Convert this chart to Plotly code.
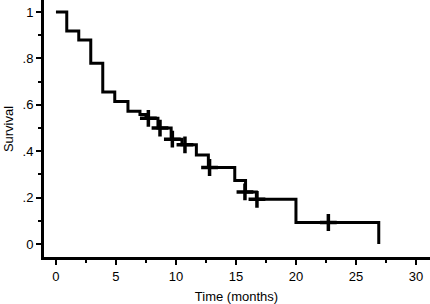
import plotly.graph_objects as go

# Kaplan-Meier step curve (time in months, survival proportion)
step_times = [0, 0.9, 1.9, 2.9, 3.9, 4.9, 6.0, 7.0, 7.5, 8.5, 9.6, 10.5, 11.7, 12.7, 14.9, 15.8, 16.7, 20.0, 26.9]
step_surv = [1.0, 0.918, 0.88, 0.779, 0.655, 0.615, 0.573, 0.558, 0.542, 0.5, 0.452, 0.428, 0.384, 0.33, 0.274, 0.225, 0.193, 0.093, 0.0]

# Censored observations
cens_times = [7.7, 8.67, 9.7, 10.75, 12.8, 15.75, 16.75, 22.7]
cens_surv = [0.542, 0.5, 0.452, 0.428, 0.33, 0.225, 0.193, 0.093]

y_ticks = [0, 0.2, 0.4, 0.6, 0.8, 1.0]
y_labels = ["0", ".2", ".4", ".6", ".8", "1"]
x_ticks = [0, 5, 10, 15, 20, 25, 30]

fig = go.Figure()
fig.add_trace(go.Scatter(x=step_times, y=step_surv, mode="lines",
                         line=dict(shape="hv", color="black", width=3),
                         hoverinfo="skip"))
fig.add_trace(go.Scatter(x=cens_times, y=cens_surv, mode="markers",
                         marker=dict(symbol="cross-thin", size=12, color="black",
                                     line=dict(color="black", width=3.5)),
                         hoverinfo="skip"))

ff = "Liberation Sans, Arial, sans-serif"

fig.update_layout(
    width=430, height=304,
    margin=dict(l=43, r=0, t=0, b=46),
    paper_bgcolor="white", plot_bgcolor="white",
    showlegend=False,
    font=dict(family=ff, size=13, color="black"),
    xaxis=dict(range=[-1.08, 31.17], tickvals=x_ticks, ticks="outside", ticklen=5,
               tickwidth=1.5, tickcolor="black", showline=True, linecolor="#000000",
               linewidth=2, showgrid=False, zeroline=False, automargin=False,
               minor=dict(dtick=2.5, tick0=0, ticks="outside", ticklen=3,
                          tickwidth=1.5, tickcolor="black", showgrid=False),
               title=dict(text="Time (months)", standoff=12,
                          font=dict(family=ff, size=13)),
               tickfont=dict(size=13)),
    yaxis=dict(range=[-0.060, 1.052], tickvals=y_ticks, ticktext=y_labels,
               ticks="outside", ticklen=5, tickwidth=1.5, tickcolor="black",
               showline=True, linecolor="#000000", linewidth=2, showgrid=False,
               zeroline=False, automargin=False,
               minor=dict(dtick=0.1, tick0=0, ticks="outside", ticklen=3,
                          tickwidth=1.5, tickcolor="black", showgrid=False),
               title=dict(text="Survival", standoff=6,
                          font=dict(family=ff, size=13)),
               tickfont=dict(size=13)),
    shapes=[
        dict(type="line", xref="x domain", yref="y domain", x0=0, x1=1, y0=0, y1=0,
             line=dict(color="#000000", width=2)),
        dict(type="line", xref="x domain", yref="y domain", x0=0, x1=0, y0=0, y1=1,
             line=dict(color="#000000", width=2)),
    ],
)

fig.write_html("out.html", config={"displayModeBar": False},
               post_script="document.body.style.margin='0';document.body.style.overflow='hidden';")
